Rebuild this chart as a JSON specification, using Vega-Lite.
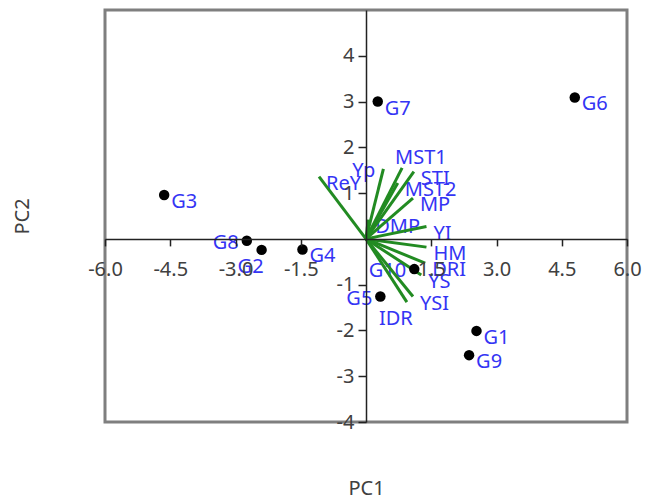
{
  "$schema": "https://vega.github.io/schema/vega-lite/v6.json",
  "width": 522,
  "height": 412,
  "autosize": {"type": "none"},
  "padding": {"left": 105, "top": 10, "right": 18, "bottom": 77},
  "config": {
    "view": {"stroke": "#7f7f7f", "strokeWidth": 3},
    "font": "Noto Sans"
  },
  "data": {
    "values": [
      {"name": "G1", "kind": "obs", "PC1": 2.54, "PC2": -2.01},
      {"name": "G2", "kind": "obs", "PC1": -2.4, "PC2": -0.24},
      {"name": "G3", "kind": "obs", "PC1": -4.64, "PC2": 0.96},
      {"name": "G4", "kind": "obs", "PC1": -1.46, "PC2": -0.23},
      {"name": "G5", "kind": "obs", "PC1": 0.33, "PC2": -1.26},
      {"name": "G6", "kind": "obs", "PC1": 4.8, "PC2": 3.09},
      {"name": "G7", "kind": "obs", "PC1": 0.27, "PC2": 3.0},
      {"name": "G8", "kind": "obs", "PC1": -2.74, "PC2": -0.04},
      {"name": "G9", "kind": "obs", "PC1": 2.37, "PC2": -2.54},
      {"name": "G10", "kind": "obs", "PC1": 1.11, "PC2": -0.66},
      {"name": "ReY", "kind": "var", "PC1": -1.08, "PC2": 1.36},
      {"name": "Yp", "kind": "var", "PC1": 0.4, "PC2": 1.53},
      {"name": "MST1", "kind": "var", "PC1": 0.83, "PC2": 1.55},
      {"name": "STI", "kind": "var", "PC1": 1.1, "PC2": 1.47},
      {"name": "MST2", "kind": "var", "PC1": 0.73, "PC2": 1.22},
      {"name": "MP", "kind": "var", "PC1": 1.08, "PC2": 0.89},
      {"name": "DMP", "kind": "var", "PC1": 0.05, "PC2": 0.42},
      {"name": "YI", "kind": "var", "PC1": 1.39, "PC2": 0.27},
      {"name": "HM", "kind": "var", "PC1": 1.39, "PC2": -0.18},
      {"name": "DRI", "kind": "var", "PC1": 1.36, "PC2": -0.53},
      {"name": "YS", "kind": "var", "PC1": 1.27, "PC2": -0.79},
      {"name": "YSI", "kind": "var", "PC1": 1.08, "PC2": -1.26},
      {"name": "IDR", "kind": "var", "PC1": 0.94, "PC2": -1.38}
    ]
  },
  "encoding": {
    "x": {
      "field": "PC1",
      "type": "quantitative",
      "scale": {"domain": [-6, 6], "nice": false, "zero": false},
      "axis": {
        "title": "PC1",
        "orient": "bottom",
        "offset": -183.1,
        "grid": false,
        "values": [-6, -4.5, -3, -1.5, 1.5, 3, 4.5, 6],
        "format": ".1f",
        "labelExpr": "replace(datum.label, '\u2212', '-')",
        "domainColor": "#222222",
        "domainWidth": 1.5,
        "tickColor": "#222222",
        "tickWidth": 1.5,
        "tickSize": 7,
        "labelFont": "Noto Sans",
        "labelFontSize": 20,
        "labelColor": "#404040",
        "labelPadding": 14,
        "labelFlush": false,
        "labelOverlap": false,
        "labelBound": false,
        "titleFont": "Noto Sans",
        "titleFontSize": 20,
        "titleFontWeight": "normal",
        "titleColor": "#404040",
        "titleY": 256,
        "titleBaseline": "alphabetic",
        "zindex": 1
      }
    },
    "y": {
      "field": "PC2",
      "type": "quantitative",
      "scale": {"domain": [-4, 5], "nice": false, "zero": false},
      "axis": {
        "title": "PC2",
        "orient": "left",
        "offset": -261,
        "grid": false,
        "values": [-4, -3, -2, -1, 1, 2, 3, 4],
        "format": "d",
        "labelExpr": "replace(datum.label, '\u2212', '-')",
        "domainColor": "#222222",
        "domainWidth": 1.5,
        "tickColor": "#222222",
        "tickWidth": 1.5,
        "tickSize": 8,
        "labelFont": "Noto Sans",
        "labelFontSize": 20,
        "labelColor": "#404040",
        "labelPadding": 4,
        "labelOverlap": false,
        "labelBound": false,
        "labelFlush": false,
        "titleFont": "Noto Sans",
        "titleFontSize": 20,
        "titleFontWeight": "normal",
        "titleColor": "#404040",
        "titleX": -338,
        "titleY": 206,
        "titleAngle": -90,
        "titleBaseline": "alphabetic",
        "zindex": 1
      }
    }
  },
  "layer": [
    {
      "transform": [{"filter": "indexof(['G8','G10','G5','Yp','G2','IDR','MST1'], datum.name) < 0"}],
      "mark": {"type": "text", "align": "left", "baseline": "middle", "dx": 7, "dy": 7, "fontSize": 20, "font": "Noto Sans", "color": "#3434F4"},
      "encoding": {"text": {"field": "name"}}
    },
    {
      "transform": [{"filter": "indexof(['G8','G10','G5','Yp'], datum.name) >= 0"}],
      "mark": {"type": "text", "align": "right", "baseline": "middle", "dx": -8, "dy": 2, "fontSize": 20, "font": "Noto Sans", "color": "#3434F4"},
      "encoding": {"text": {"field": "name"}}
    },
    {
      "transform": [{"filter": "indexof(['G2','IDR'], datum.name) >= 0"}],
      "mark": {"type": "text", "align": "center", "baseline": "middle", "dx": -11, "dy": 17, "fontSize": 20, "font": "Noto Sans", "color": "#3434F4"},
      "encoding": {"text": {"field": "name"}}
    },
    {
      "transform": [{"filter": "datum.name == 'MST1'"}],
      "mark": {"type": "text", "align": "left", "baseline": "middle", "dx": -7, "dy": -10, "fontSize": 20, "font": "Noto Sans", "color": "#3434F4"},
      "encoding": {"text": {"field": "name"}}
    },
    {
      "transform": [{"filter": "datum.kind == 'var'"}],
      "mark": {"type": "rule", "color": "#228B22", "strokeWidth": 3},
      "encoding": {"x2": {"datum": 0}, "y2": {"datum": 0}}
    },
    {
      "transform": [{"filter": "datum.kind == 'obs'"}],
      "mark": {"type": "point", "filled": true, "color": "#000000", "size": 110, "opacity": 1},
      "encoding": {}
    }
  ]
}
